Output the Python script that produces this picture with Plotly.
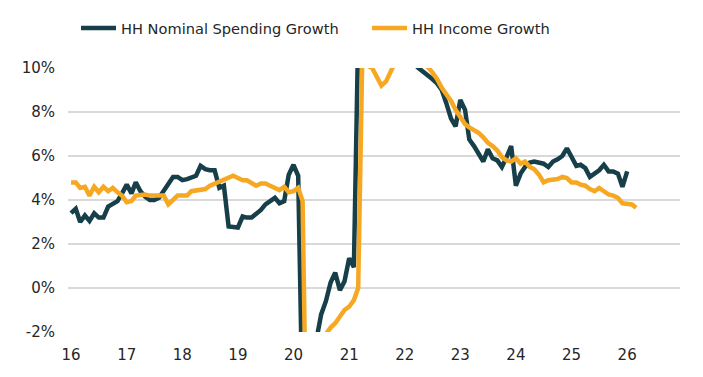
import pandas as pd
import plotly.graph_objects as go

spending = [
    3.4, 3.6, 3.0, 3.3, 3.05, 3.4, 3.2, 3.2, 3.7, 3.85, 3.95, 4.3,
    4.7, 4.3, 4.8, 4.4, 4.15, 4.0, 4.0, 4.1, 4.4, 4.75, 5.05, 5.05,
    4.9, 4.95, 5.0, 5.1, 5.55, 5.4, 5.35, 5.35, 4.55, 4.65, 2.8, 2.8,
    2.75, 3.25, 3.2, 3.2, 3.35, 3.55, 3.8, 3.95, 4.1, 3.85, 3.95, 5.15,
    5.6, 5.1, -6, -17, -10, -2.3, -1.2, -0.6, 0.25, 0.7, -0.1, 0.3,
    1.35, 0.95, 11.5, 29, 22, 16, 13, 12, 12, 12.5, 12.5, 12,
    11.5, 10.6, 10.2, 10.0, 9.85, 9.7, 9.5, 9.3, 9.0, 8.4, 7.7, 7.35,
    8.55, 8.1, 6.75, 6.45, 6.1, 5.75, 6.3, 5.9, 5.8, 5.5, 5.95, 6.45,
    4.65, 5.2, 5.5, 5.7, 5.75, 5.7, 5.65, 5.5, 5.75, 5.85, 6.0, 6.35,
    5.95, 5.55, 5.6, 5.45, 5.05, 5.2, 5.35, 5.6, 5.3, 5.3, 5.2, 4.6,
    5.3,
]

income = [
    4.8, 4.8, 4.55, 4.6, 4.2, 4.6, 4.35, 4.6, 4.4, 4.55, 4.35, 4.2,
    3.9, 3.95, 4.2, 4.25, 4.25, 4.2, 4.2, 4.2, 4.2, 3.8, 4.0, 4.2,
    4.2, 4.2, 4.4, 4.45, 4.5, 4.5, 4.65, 4.75, 4.85, 4.95, 5.05, 5.1,
    5.0, 4.9, 4.9, 4.8, 4.65, 4.75, 4.75, 4.65, 4.55, 4.45, 4.6, 4.35,
    4.4, 4.55, 3.95, -10, -8, -5, -3, -2.1, -1.8, -1.6, -1.3, -1.0,
    -0.85, -0.55, 0.0, 12, 10.1, 10.0, 9.6, 9.2, 9.4, 9.9, 10.3, 10.6,
    10.8, 10.8, 10.7, 10.5, 10.3, 10.05, 9.8, 9.5, 9.1, 8.8, 8.5, 8.1,
    7.8, 7.45, 7.3, 7.2, 7.05, 6.85, 6.6, 6.45, 6.25, 5.95, 5.8, 5.75,
    5.9, 5.65, 5.75, 5.5, 5.4, 5.15, 4.8, 4.9, 4.9, 4.95, 5.05, 5.0,
    4.8, 4.8, 4.7, 4.65, 4.5, 4.4, 4.55, 4.4, 4.25, 4.2, 4.1, 3.85,
    3.85, 3.8, 3.65,
]

spending_dates = pd.date_range("2016-01-01", periods=len(spending), freq="MS")
income_dates = pd.date_range("2016-01-01", periods=len(income), freq="MS")

y_tickvals = [-2, 0, 2, 4, 6, 8, 10]
y_ticktext = ["-2%", "0%", "2%", "4%", "6%", "8%", "10%"]

DARK = "#173f4a"
ORANGE = "#f6a823"
FONT = "DejaVu Sans"

W, H = 695, 369  # page body adds an 8px margin

fig = go.Figure()
fig.add_trace(go.Scatter(x=spending_dates, y=spending, mode="lines",
                         name="HH Nominal Spending Growth",
                         line=dict(color=DARK, width=4.5)))
fig.add_trace(go.Scatter(x=income_dates, y=income, mode="lines",
                         name="HH Income Growth",
                         line=dict(color=ORANGE, width=4.5)))

fig.update_layout(
    width=W, height=H,
    margin=dict(l=60, r=23, t=60, b=45, autoexpand=False),
    paper_bgcolor="white", plot_bgcolor="white",
    font=dict(family=FONT, size=15, color="#262626"),
    showlegend=True,
    legend=dict(orientation="h", xref="container", x=68/W, xanchor="left",
                yref="container", y=1 - 20/H, yanchor="middle",
                font=dict(family=FONT, size=14.6, color="#262626"),
                entrywidth=241, entrywidthmode="pixels", itemwidth=35,
                bgcolor="rgba(0,0,0,0)"),
    xaxis=dict(type="date", range=["2015-12-12", "2026-12-14"],
               tick0="2016-01-01", dtick="M12", tickformat="%y",
               showgrid=False, zeroline=False, showline=False, ticks="",
               ticklabelstandoff=12,
               tickfont=dict(family=FONT, size=15, color="#262626")),
    yaxis=dict(range=[-2, 10], tickvals=y_tickvals, ticktext=y_ticktext,
               showgrid=True, gridcolor="#d9d9d9", gridwidth=2,
               zeroline=False, showline=False, ticks="",
               ticklabelstandoff=12,
               tickfont=dict(family=FONT, size=15, color="#262626")),
)

fig.write_html("out.html")
